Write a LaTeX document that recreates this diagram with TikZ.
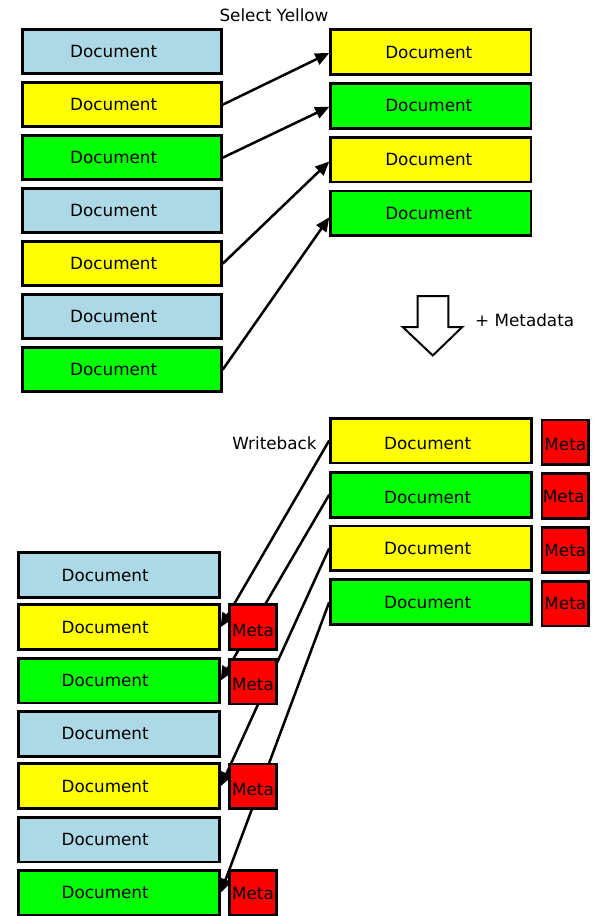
\documentclass[tikz,border=0pt]{standalone}
\usepackage{fontspec}
\setmainfont{DejaVu Sans}
\usetikzlibrary{arrows.meta}

\definecolor{docblue}{RGB}{173,216,230}
\definecolor{docyellow}{RGB}{255,255,0}
\definecolor{docgreen}{RGB}{0,255,0}
\definecolor{metared}{RGB}{255,0,0}

\newcommand{\txtfont}{\fontsize{16.8}{20}\selectfont}

\tikzset{
  box/.style={draw=black, line width=2.8pt, inner sep=0pt, font=\txtfont, text height=12.3pt, text depth=0pt},
  docL/.style={box, minimum width=199.2pt, minimum height=43.9pt},
  docR/.style={box, minimum width=200.2pt, minimum height=44.8pt},
  docB/.style={box, minimum width=201.2pt, minimum height=44.8pt},
  meta/.style={box, fill=metared, minimum width=46.5pt, minimum height=44.7pt},
  lower/.style={text height={12.3pt+2*#1}},
  conn/.style={line width=2.5pt, -{Triangle[length=14pt, width=12pt]}},
  caption/.style={font=\txtfont, inner sep=0pt}
}

\begin{document}
\begin{tikzpicture}[x=1pt, y=-1pt]
\useasboundingbox (0,0) rectangle (592,916);

% ---------- selection: all documents on the left, yellow/green ones on the right
\node[caption] (sel) at (274,15) {Select Yellow};

\node[docL, fill=docblue]   (a1) at (121.7, 51.7) {Document\hspace*{16pt}};
\node[docL, fill=docyellow] (a2) at (121.7,104.7) {Document\hspace*{16pt}};
\node[docL, fill=docgreen]  (a3) at (121.7,157.7) {Document\hspace*{16pt}};
\node[docL, fill=docblue]   (a4) at (121.7,210.7) {Document\hspace*{16pt}};
\node[docL, fill=docyellow] (a5) at (121.7,263.7) {Document\hspace*{16pt}};
\node[docL, fill=docblue]   (a6) at (121.7,316.7) {Document\hspace*{16pt}};
\node[docL, fill=docgreen]  (a7) at (121.7,369.7) {Document\hspace*{16pt}};

\node[docR, fill=docyellow] (s1) at (430.8, 52.0) {Document\hspace*{4pt}};
\node[docR, fill=docgreen]  (s2) at (430.8,105.8) {Document\hspace*{4pt}};
\node[docR, fill=docyellow] (s3) at (430.8,159.5) {Document\hspace*{4pt}};
\node[docR, fill=docgreen]  (s4) at (430.8,213.3) {Document\hspace*{4pt}};

\draw[conn] (a2.east) -- ([yshift=-1pt]s1.west);
\draw[conn] (a3.east) -- ([yshift=-1pt]s2.west);
\draw[conn] (a5.east) -- ([yshift=-2pt]s3.west);
\draw[conn] (a7.east) -- ([yshift=-4pt]s4.west);

% ---------- hollow arrow: metadata is added
\draw[line width=2pt, fill=white, line join=miter]
  (417.7,296) -- (448.3,296) -- (448.3,327) -- (462.3,327)
  -- (432.8,355.5) -- (402.7,327) -- (417.7,327) -- cycle;
\node[caption, anchor=west] (plus) at (475,320.5) {+ Metadata};

% ---------- writeback: enriched documents go back to the store
\node[caption] (wb) at (274.5,443) {Writeback};

\node[docB, fill=docyellow, lower=3] (r1) at (431.2,440.5) {Document\hspace*{7pt}};
\node[docB, fill=docgreen,  lower=3] (r2) at (431.2,494.7) {Document\hspace*{7pt}};
\node[docB, fill=docyellow]          (r3) at (431.2,548.3) {Document\hspace*{7pt}};
\node[docB, fill=docgreen]           (r4) at (431.2,602.2) {Document\hspace*{7pt}};

\node[meta, lower=2] (rm1) at (565.3,442.3) {Meta};
\node[meta]          (rm2) at (565.3,496.0) {Meta\hspace*{3pt}};
\node[meta]          (rm3) at (565.3,550.0) {Meta};
\node[meta]          (rm4) at (565.3,603.7) {Meta};

\node[docB, fill=docblue]   (b1) at (118.7,575.0) {Document\hspace*{27pt}};
\node[docB, fill=docyellow] (b2) at (118.7,627.2) {Document\hspace*{27pt}};
\node[docB, fill=docgreen]  (b3) at (118.7,680.5) {Document\hspace*{27pt}};
\node[docB, fill=docblue]   (b4) at (118.7,733.8) {Document\hspace*{27pt}};
\node[docB, fill=docyellow] (b5) at (118.7,786.2) {Document\hspace*{27pt}};
\node[docB, fill=docblue]   (b6) at (118.7,839.5) {Document\hspace*{27pt}};
\node[docB, fill=docgreen]  (b7) at (118.7,892.7) {Document\hspace*{27pt}};

\draw[conn] (r1.west) -- (b2.east);
\draw[conn] (r2.west) -- (b3.east);
\draw[conn] (r3.west) -- (b5.east);
\draw[conn] (r4.west) -- (b7.east);

\node[meta, lower=3] (bm1) at (253,627.2) {Meta};
\node[meta, lower=3] (bm2) at (253,681.7) {Meta};
\node[meta, lower=3] (bm3) at (253,786.3) {Meta};
\node[meta]          (bm4) at (253,893.0) {Meta};
\end{tikzpicture}
\end{document}
